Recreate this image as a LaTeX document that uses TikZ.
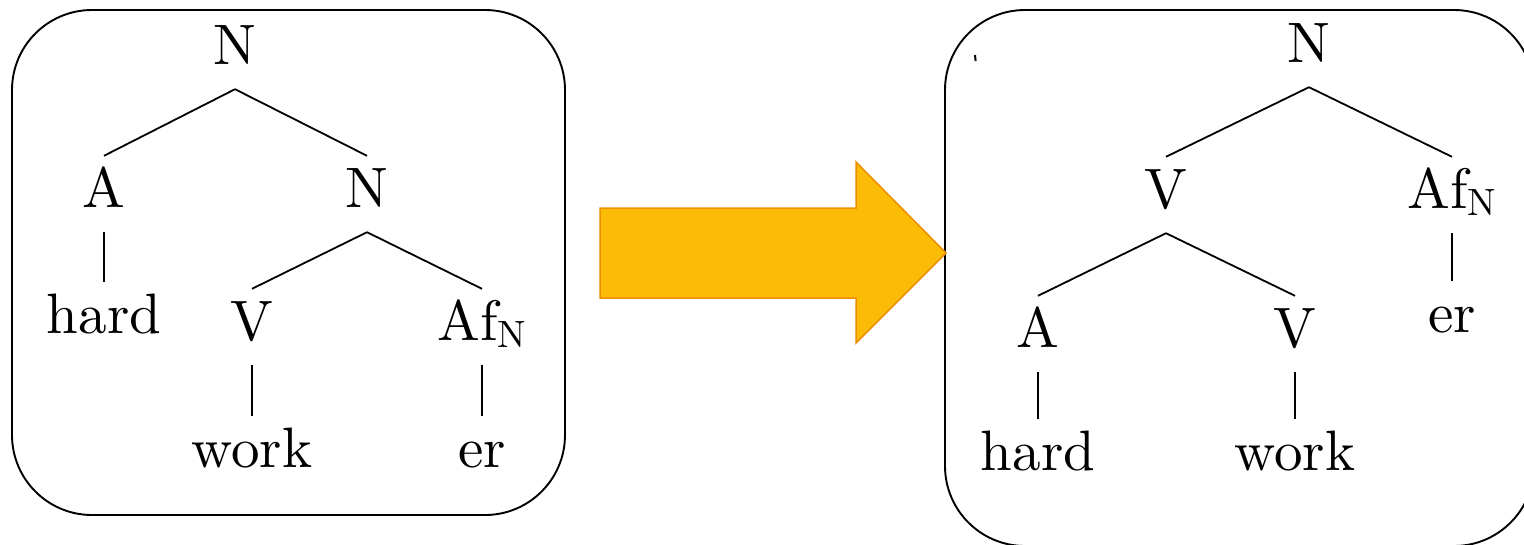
\documentclass[tikz,border=0pt]{standalone}
\usepackage{fontspec}
\setmainfont{lmroman10-regular}[Extension=.otf]
\begin{document}
\definecolor{arrowfill}{RGB}{251,188,5}
\definecolor{arrowdraw}{RGB}{240,140,0}
\newcommand{\afn}{Af\raisebox{-7pt}{\fontsize{38}{38}\selectfont N}}
\begin{tikzpicture}[x=1pt,y=-1pt,
  tn/.style={font=\fontsize{57}{68}\selectfont, anchor=base, text height=40pt, text depth=14pt, inner ysep=11pt, inner xsep=0pt},
  edge/.style={line width=1.8pt},
  frame/.style={line width=1.9pt, rounded corners=80pt},
  bigarrow/.style={fill=arrowfill, draw=arrowdraw, line width=1.5pt, line join=miter}]
\useasboundingbox (0,0) rectangle (1524,544);
% frames
\draw[frame] (12,10) rectangle (565,515);
\draw[frame] (945,10) rectangle (1534,546);
% left tree
\node[tn] (l0) at (235,64) {N};
\node[tn] (l1) at (104,207) {A};
\node[tn] (l2) at (367,207) {N};
\node[tn] (l3) at (104,333) {hard};
\node[tn] (l4) at (252,340) {V};
\node[tn] (l5) at (482,340) {\afn};
\node[tn] (l6) at (252,467) {work};
\node[tn] (l7) at (482,467) {er};
\draw[edge] (l0.south) -- (l1.north);
\draw[edge] (l0.south) -- (l2.north);
\draw[edge] (l1.south) -- (l3.north);
\draw[edge] (l2.south) -- (l4.north);
\draw[edge] (l2.south) -- (l5.north);
\draw[edge] (l4.south) -- (l6.north);
\draw[edge] (l5.south) -- (l7.north);
% right tree
\node[tn] (r0) at (1309,62) {N};
\node[tn] (r1) at (1166,208) {V};
\node[tn] (r2) at (1452,208) {\afn};
\node[tn] (r3) at (1038,347) {A};
\node[tn] (r4) at (1295,347) {V};
\node[tn] (r5) at (1452,332) {er};
\node[tn] (r6) at (1038,470) {hard};
\node[tn] (r7) at (1295,470) {work};
\draw[edge] (r0.south) -- (r1.north);
\draw[edge] (r0.south) -- (r2.north);
\draw[edge] (r1.south) -- (r3.north);
\draw[edge] (r1.south) -- (r4.north);
\draw[edge] (r2.south) -- (r5.north);
\draw[edge] (r3.south) -- (r6.north);
\draw[edge] (r4.south) -- (r7.north);
% stray tick
\coordinate (t1) at (975,55);
\coordinate (t2) at (975.6,61);
\draw[line width=2pt] (t1) -- (t2);
% block arrow
\draw[bigarrow] (600,208) -- (856,208) -- (856,162) -- (946,253) -- (856,343) -- (856,298) -- (600,298) -- cycle;
\end{tikzpicture}
\end{document}
